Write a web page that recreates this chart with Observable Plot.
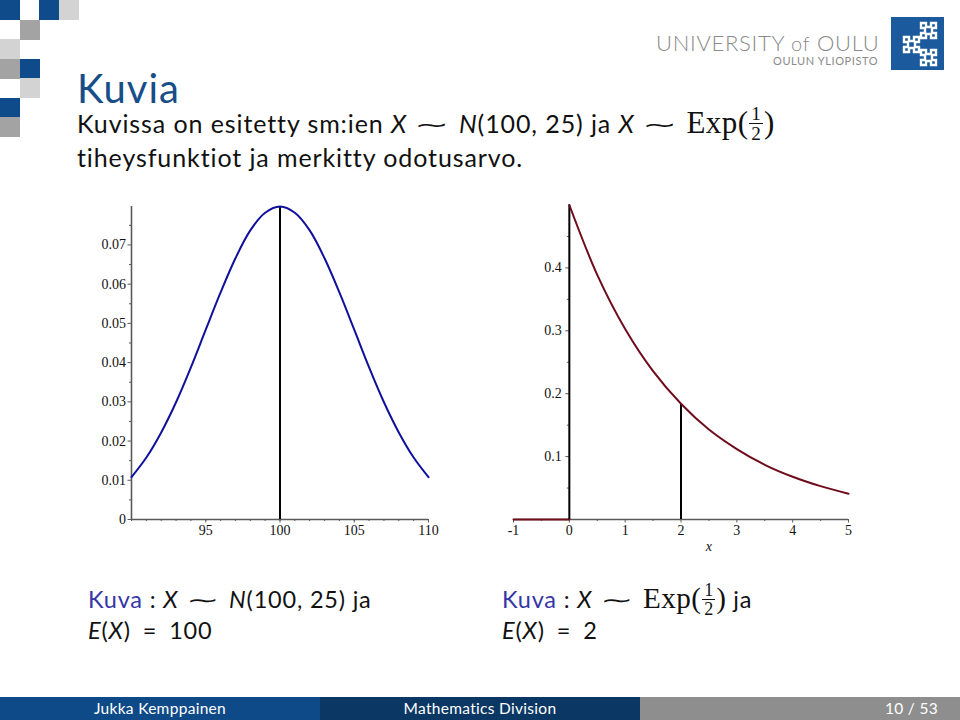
<!DOCTYPE html>
<html><head><meta charset="utf-8">
<script src="https://cdn.jsdelivr.net/npm/d3@7"></script>
<script src="https://cdn.jsdelivr.net/npm/@observablehq/plot@0.6"></script>
<style>
body{margin:0;width:960px;height:720px;position:relative;overflow:hidden;background:#fff;font-family:Lato,"DejaVu Sans",sans-serif;color:#111;font-variant-ligatures:none;}
.abs{position:absolute;white-space:nowrap;}
.sq{position:absolute;width:20px;height:20px;}
.title{left:77px;top:64px;font-size:40px;letter-spacing:1px;color:#174e88;}
.line{left:77px;font-size:25px;letter-spacing:0.9px;line-height:30px;}
.it{font-style:italic;}
.sim{display:inline-block;font-family:"Liberation Serif",serif;transform:scale(1.7,0.85);margin:0 15px;}
.eq{margin:0 12px;}
.rm{font-family:"Liberation Serif",serif;font-size:1.24em;letter-spacing:0.4px;line-height:0;}
.frac{display:inline-block;vertical-align:-0.4em;text-align:center;font-family:"Liberation Serif",serif;font-size:0.62em;line-height:1.0;margin:0 1px;letter-spacing:0;}
.frac span{display:block;padding:0 2px;}
.frac .num{border-bottom:1px solid #111;}
.cap{font-size:23.5px;line-height:28px;height:28px;letter-spacing:0.8px;}
.kuva{color:#3636a8;}
.bar{position:absolute;top:697px;height:23px;color:#fff;font-size:15.5px;line-height:23px;text-align:center;letter-spacing:0.3px;}
.plot{position:absolute;}
</style></head><body>
<div id="deco"></div>
<div class="abs title">Kuvia</div>
<div class="abs line" style="top:104px">Kuvissa on esitetty sm:ien <span class="it">X</span><span class="sim">∼</span><span class="it">N</span>(100, 25) ja <span class="it">X</span><span class="sim">∼</span><span class="rm">Exp(<span class="frac"><span class="num">1</span><span>2</span></span>)</span></div>
<div class="abs line" style="top:142px">tiheysfunktiot ja merkitty odotusarvo.</div>

<div class="abs" style="left:656px;top:29px;font-size:22px;color:#8a8a8a;letter-spacing:0.7px;font-weight:300">UNIVERSITY <span style="font-size:20px">of</span> OULU</div>
<div class="abs" style="left:773px;top:54px;font-size:11px;color:#8a8a8a;letter-spacing:0.6px">OULUN YLIOPISTO</div>
<svg class="abs" style="left:891px;top:17px" width="53" height="53" viewBox="0 0 53 53">
<rect width="53" height="53" fill="#1b5a9c"/>
<g fill="none" stroke="#fff" stroke-width="2.4" stroke-linejoin="miter">
<path d="M30 6 h5 v4 h5 v-4 h5 v5 h-4 v5 h4 v5 h-5 v-4 h-5 v4 h-5 v-5 h4 v-5 h-4 z"/>
<path d="M13 20 h5 v4 h5 v-4 h5 v5 h-4 v5 h4 v5 h-5 v-4 h-5 v4 h-5 v-5 h4 v-5 h-4 z"/>
<path d="M30 33 h5 v4 h5 v-4 h5 v5 h-4 v5 h4 v5 h-5 v-4 h-5 v4 h-5 v-5 h4 v-5 h-4 z"/>
</g></svg>

<div id="left" class="plot" style="left:80px;top:190px"></div>
<div id="right" class="plot" style="left:490px;top:190px"></div>

<div class="abs cap" style="left:88px;top:585px"><span class="kuva">Kuva</span> : <span class="it">X</span><span class="sim">∼</span><span class="it">N</span>(100, 25) ja</div>
<div class="abs cap" style="left:88px;top:616px"><span class="it">E</span>(<span class="it">X</span>)<span class="eq">=</span>100</div>
<div class="abs cap" style="left:502px;top:581px"><span class="kuva">Kuva</span> : <span class="it">X</span><span class="sim">∼</span><span class="rm">Exp(<span class="frac"><span class="num">1</span><span>2</span></span>)</span> ja</div>
<div class="abs cap" style="left:502px;top:616px"><span class="it">E</span>(<span class="it">X</span>)<span class="eq">=</span>2</div>

<div class="bar" style="left:0;width:320px;background:#0f4a88">Jukka Kemppainen</div>
<div class="bar" style="left:320px;width:320px;background:#0b3764">Mathematics Division</div>
<div class="bar" style="left:640px;width:320px;background:#8e8e8e;text-align:right;"><span style="padding-right:22px">10 / 53</span></div>

<script>
// ---- data ----
const normX = [90,91,92,93,94,95,96,97,98,99,100,101,102,103,104,105,106,107,108,109,110];
const normY = [0.0108,0.0158,0.0222,0.0299,0.0388,0.0484,0.0579,0.0666,0.0737,0.0782,0.0798,0.0782,0.0737,0.0666,0.0579,0.0484,0.0388,0.0299,0.0222,0.0158,0.0108];
const normMean = 100, normMeanY = 0.0798;
const normYTicks = [0,0.01,0.02,0.03,0.04,0.05,0.06,0.07];
const normXTicks = [95,100,105,110];

const expX = [0,0.5,1,1.5,2,2.5,3,3.5,4,4.5,5];
const expY = [0.5,0.389,0.303,0.236,0.184,0.143,0.112,0.087,0.068,0.053,0.041];
const expZeroX = [-1,0];
const expZeroY = [0,0];
const expMean = 2, expMeanY = 0.184;
const expYTicks = [0.1,0.2,0.3,0.4];
const expXTicks = [-1,0,1,2,3,4,5];

// decoration squares (column,row,colour index)
const sqCol = [0,2,3,1,0,0,1,1,0,0];
const sqRow = [0,0,0,1,2,3,3,4,5,6];
const sqTone = [0,0,2,1,2,1,0,2,0,1];
const tones = ["#0f4a8a","#a3a3a3","#d3d3d3"];
const deco = document.getElementById("deco");
sqCol.forEach((c,i)=>{const d=document.createElement("div");d.className="sq";d.style.left=(c*19.5)+"px";d.style.top=(sqRow[i]*19.5)+"px";d.style.background=tones[sqTone[i]];deco.appendChild(d);});

const axisGray = "#5a5a5a";
const svgStyle = "font-family:'Liberation Serif',serif;font-size:14px;background:transparent;color:#111;";
const tf = {fill:"#111", fontSize:14, fontFamily:"Liberation Serif, serif"};
const fmt = d => d===0 ? "0" : d3.format(".2f")(d);

// ---- left: normal ----
const normData = normX.map((x,i)=>({x, y:normY[i]}));
const left = Plot.plot({
  width:370, height:360,
  marginLeft:51, marginRight:22, marginTop:16, marginBottom:31,
  style:svgStyle,
  x:{domain:[90,110]},
  y:{domain:[0,0.0798]},
  marks:[
    Plot.axisX({ticks:d3.range(90,111,1), tickSize:2, text:null, label:null, stroke:axisGray}),
    Plot.axisY({ticks:d3.range(0.005,0.08,0.01), tickSize:2, text:null, label:null, stroke:axisGray}),
    Plot.axisX({ticks:normXTicks, tickSize:3.5, tickPadding:2, stroke:axisGray, tickFormat:d=>String(d), label:null, ...tf}),
    Plot.axisY({ticks:normYTicks, tickSize:3.5, tickPadding:2, stroke:axisGray, tickFormat:fmt, label:null, ...tf}),
    Plot.ruleY([0],{stroke:axisGray, strokeWidth:1.6}),
    Plot.ruleX([90],{stroke:axisGray, strokeWidth:1.6, y1:0, y2:0.0798}),
    Plot.ruleX([normMean],{y1:0, y2:normMeanY, stroke:"#000", strokeWidth:2}),
    Plot.line(normData,{x:"x", y:"y", stroke:"#10109c", strokeWidth:2, curve:"catmull-rom"})
  ]
});
document.getElementById("left").appendChild(left);

// ---- right: exponential ----
const expData = expX.map((x,i)=>({x, y:expY[i]}));
const zeroData = expZeroX.map((x,i)=>({x, y:expZeroY[i]}));
const right = Plot.plot({
  width:380, height:370,
  marginLeft:23, marginRight:22, marginTop:14.5, marginBottom:41,
  style:svgStyle,
  x:{domain:[-1,5]},
  y:{domain:[0,0.5]},
  marks:[
    Plot.axisX({ticks:d3.range(-0.5,5,1), tickSize:2, text:null, label:null, stroke:axisGray}),
    Plot.axisY({ticks:d3.range(0.05,0.5,0.1), tickSize:2, text:null, label:null, stroke:axisGray, anchor:"left", x:0}),
    Plot.axisX({ticks:expXTicks, tickSize:3.5, tickPadding:2, stroke:axisGray, tickFormat:d=>d<0?"-"+Math.abs(d):String(d), label:null, ...tf}),
    Plot.axisY({ticks:expYTicks, tickSize:3.5, tickPadding:4, stroke:axisGray, tickFormat:d=>d3.format(".1f")(d), anchor:"left", x:0, label:null, ...tf}),
    Plot.ruleY([0],{stroke:axisGray, strokeWidth:1.6}),
    Plot.text(["x"],{x:()=>2.5, y:()=>0, dy:27, fontStyle:"italic", ...tf}),
    Plot.line(zeroData,{x:"x", y:"y", stroke:"#6e0c1c", strokeWidth:2}),
    Plot.ruleX([0],{y1:0, y2:0.5, stroke:"#000", strokeWidth:2}),
    Plot.ruleX([expMean],{y1:0, y2:expMeanY, stroke:"#000", strokeWidth:2}),
    Plot.line(expData,{x:"x", y:"y", stroke:"#6e0c1c", strokeWidth:2, curve:"catmull-rom"})
  ]
});
document.getElementById("right").appendChild(right);
</script>
</body></html>
